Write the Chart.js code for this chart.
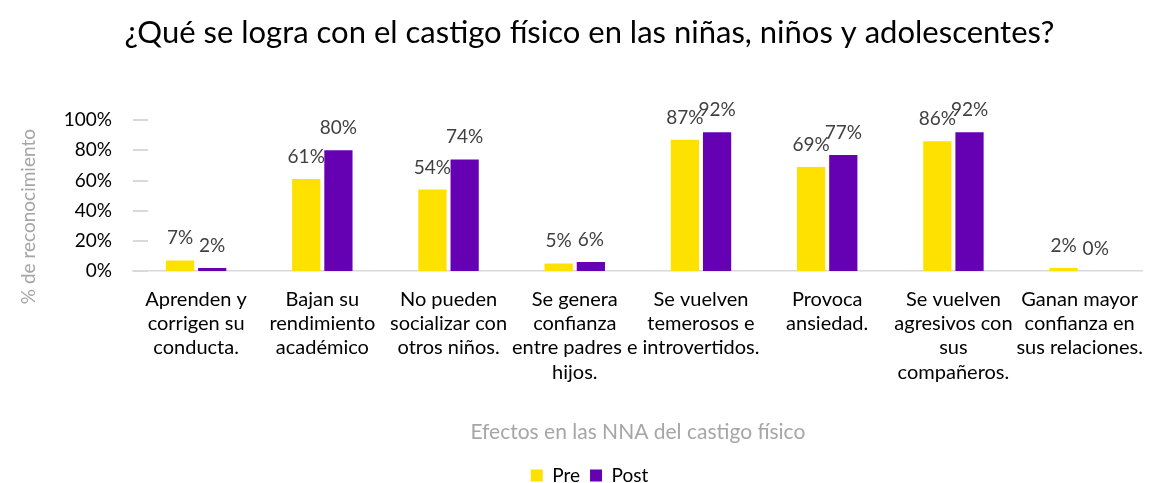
<!DOCTYPE html>
<html>
<head>
<meta charset="utf-8">
<script src="https://cdn.jsdelivr.net/npm/chart.js@4"></script>
<style>
  html, body { margin: 0; padding: 0; background: #fff; overflow: hidden; }
</style>
</head>
<body>
<canvas id="efectosChart" width="1159" height="483"></canvas>
<script>
/* Data */
const categories = [
    ["Aprenden y", "corrigen su", "conducta."],
    ["Bajan su", "rendimiento", "académico"],
    ["No pueden", "socializar con", "otros niños."],
    ["Se genera", "confianza", "entre padres e", "hijos."],
    ["Se vuelven", "temerosos e", "introvertidos."],
    ["Provoca", "ansiedad."],
    ["Se vuelven", "agresivos con", "sus", "compañeros."],
    ["Ganan mayor", "confianza en", "sus relaciones."]
];
const preValues = [7, 61, 54, 5, 87, 69, 86, 2];
const postValues = [2, 80, 74, 6, 92, 77, 92, 0];
const yTickValues = [0, 20, 40, 60, 80, 100];

const FONT = "Lato";

// value labels above each bar
const barLabels = {
    id: 'barLabels',
    afterDatasetsDraw(chart) {
        const ctx = chart.ctx;
        ctx.save();
        ctx.font = `19px ${FONT}`;
        ctx.fillStyle = '#404040';
        ctx.textAlign = 'center';
        ctx.textBaseline = 'alphabetic';
        chart.data.datasets.forEach((ds, i) => {
            chart.getDatasetMeta(i).data.forEach((bar, j) => {
                ctx.fillText(ds.data[j] + '%', bar.x, bar.y - 16);
            });
        });
        ctx.restore();
    }
};

// short tick marks on the value axis + rotated axis title
const yAxisExtras = {
    id: 'yAxisExtras',
    afterDraw(chart) {
        const ctx = chart.ctx;
        const y = chart.scales.y;
        const area = chart.chartArea;
        ctx.save();
        ctx.strokeStyle = '#D9D9D9';
        ctx.lineWidth = 2;
        yTickValues.forEach(v => {
            const py = Math.round(y.getPixelForValue(v));
            ctx.beginPath();
            ctx.moveTo(area.left, py);
            ctx.lineTo(area.left + 15, py);
            ctx.stroke();
        });

        // title sits a bit lower than the plot middle, like the original
        ctx.translate(29, (area.top + area.bottom) / 2 + 21);
        ctx.rotate(-Math.PI / 2);
        ctx.font = `19px ${FONT}`;
        ctx.fillStyle = '#A6A6A6';
        ctx.textAlign = 'center';
        ctx.textBaseline = 'middle';
        ctx.fillText('% de reconocimiento', 0, 0);
        ctx.restore();
    }
};

const ctx = document.getElementById('efectosChart').getContext('2d');

new Chart(ctx, {
    type: 'bar',
    data: {
        labels: categories,
        datasets: [{
            label: 'Pre',
            data: preValues,
            backgroundColor: '#FFE100',
            barPercentage: 0.877,
            categoryPercentage: 0.51
        }, {
            label: 'Post',
            data: postValues,
            backgroundColor: '#6600B3',
            barPercentage: 0.877,
            categoryPercentage: 0.51
        }]
    },
    options: {
        responsive: false,
        animation: false,
        layout: { padding: { left: 22, right: 2, top: 0, bottom: -12 } },
        plugins: {
            title: {
                display: true,
                text: '¿Qué se logra con el castigo físico en las niñas, niños y adolescentes?',
                color: '#000',
                font: { family: FONT, size: 31, weight: 'normal' },
                padding: { top: 14, bottom: 69 }
            },
            legend: {
                position: 'bottom',
                labels: {
                    color: '#000',
                    font: { family: FONT, size: 19 },
                    boxWidth: 12,
                    boxHeight: 12,
                    padding: 10
                }
            },
            tooltip: { enabled: false }
        },
        scales: {
            x: {
                grid: { display: false, drawTicks: false },
                border: { display: true, color: '#D9D9D9', width: 1.5 },
                ticks: {
                    color: '#000',
                    font: { family: FONT, size: 20, lineHeight: 1.22 },
                    padding: 16,
                    maxRotation: 0,
                    autoSkip: false
                },
                title: {
                    display: true,
                    text: 'Efectos en las NNA del castigo físico',
                    color: '#A6A6A6',
                    font: { family: FONT, size: 21 },
                    padding: { top: 0, bottom: 11 }
                },
                afterFit(scale) { scale.height = 185; }
            },
            y: {
                min: 0,
                max: 100,
                grid: { display: false, drawTicks: false },
                border: { display: false },
                ticks: {
                    stepSize: 20,
                    color: '#000',
                    font: { family: FONT, size: 19 },
                    padding: 21,
                    callback: v => v + '%'
                },
                afterFit(scale) { scale.width = 111; }
            }
        }
    },
    plugins: [barLabels, yAxisExtras]
});
</script>
</body>
</html>
